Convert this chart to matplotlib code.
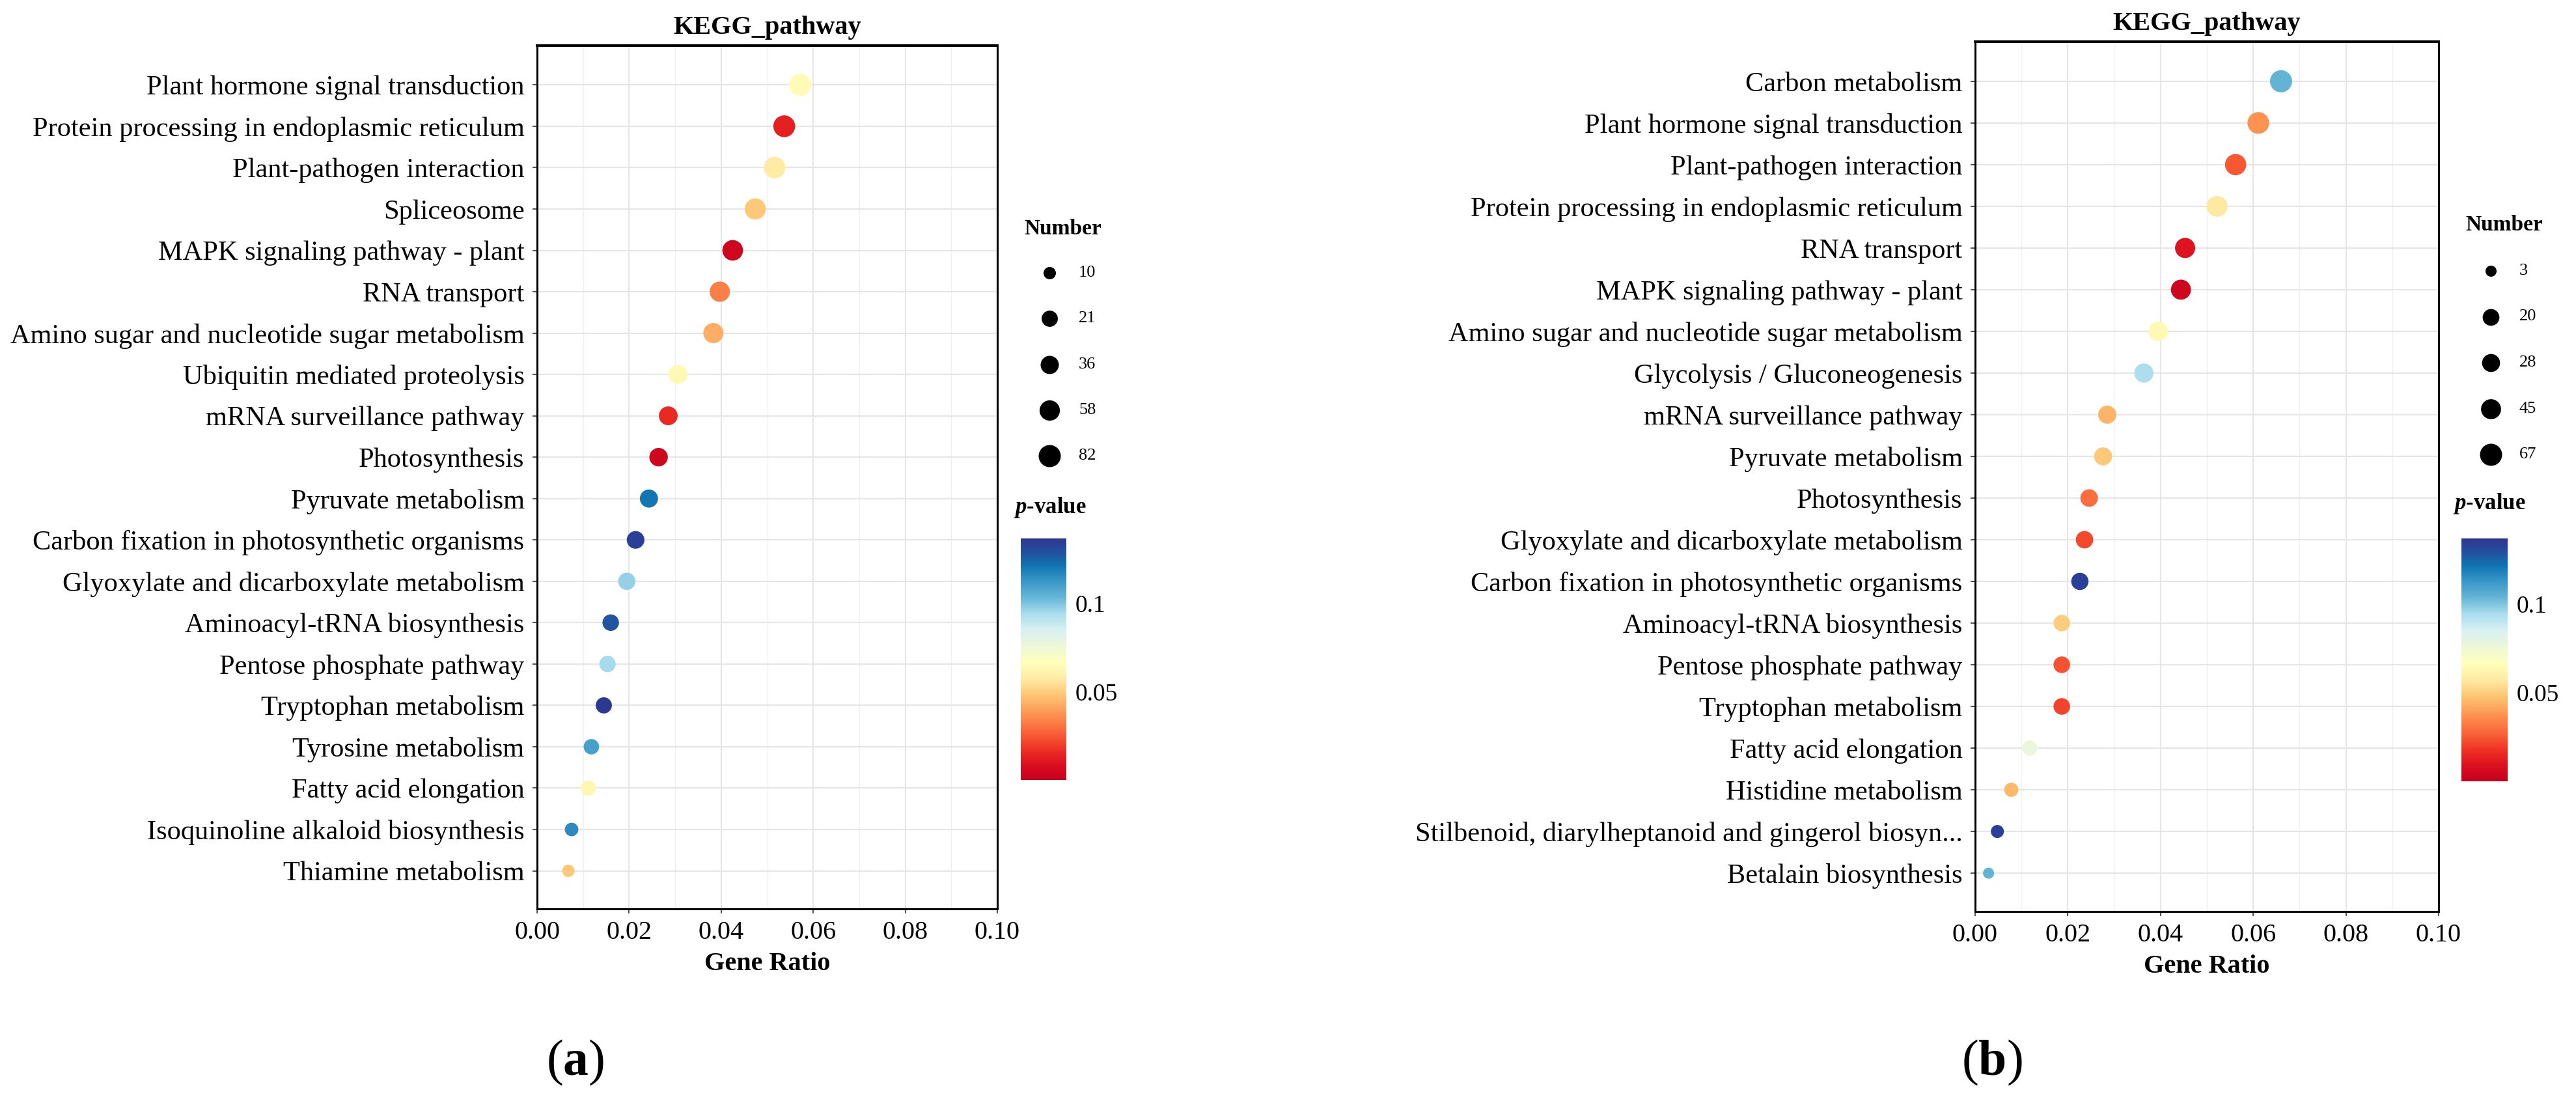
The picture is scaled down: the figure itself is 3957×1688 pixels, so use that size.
import numpy as np
import matplotlib
matplotlib.use("Agg")
import matplotlib.pyplot as plt
from matplotlib.colors import LinearSegmentedColormap
from matplotlib.ticker import MultipleLocator

plt.rcParams['font.family'] = ['Liberation Serif', 'DejaVu Serif']
plt.rcParams['mathtext.fontset'] = 'custom'
plt.rcParams['mathtext.rm'] = 'Liberation Serif'
plt.rcParams['mathtext.it'] = 'Liberation Serif:italic:bold'
plt.rcParams['mathtext.bf'] = 'Liberation Serif:bold'

W, H, DPI = 3957, 1688, 100

# ---- panel (a) ----
pathways_a = [
    "Plant hormone signal transduction",
    "Protein processing in endoplasmic reticulum",
    "Plant-pathogen interaction",
    "Spliceosome",
    "MAPK signaling pathway - plant",
    "RNA transport",
    "Amino sugar and nucleotide sugar metabolism",
    "Ubiquitin mediated proteolysis",
    "mRNA surveillance pathway",
    "Photosynthesis",
    "Pyruvate metabolism",
    "Carbon fixation in photosynthetic organisms",
    "Glyoxylate and dicarboxylate metabolism",
    "Aminoacyl-tRNA biosynthesis",
    "Pentose phosphate pathway",
    "Tryptophan metabolism",
    "Tyrosine metabolism",
    "Fatty acid elongation",
    "Isoquinoline alkaloid biosynthesis",
    "Thiamine metabolism",
]
ratio_a = [0.0572, 0.0537, 0.0516, 0.0474, 0.0425, 0.0397, 0.0383, 0.0306, 0.0285, 0.0264,
           0.0243, 0.0214, 0.0195, 0.0160, 0.0153, 0.0145, 0.0118, 0.0111, 0.0075, 0.0068]
count_a = [82, 77, 74, 68, 61, 57, 55, 44, 41, 38, 35, 31, 28, 23, 22, 21, 17, 16, 11, 10]
pvalue_a = [0.065, 0.013, 0.058, 0.049, 0.004, 0.033, 0.043, 0.064, 0.016, 0.004,
            0.121, 0.134, 0.097, 0.128, 0.095, 0.136, 0.110, 0.063, 0.116, 0.049]
size_breaks_a = [10, 21, 36, 58, 82]

# ---- panel (b) ----
pathways_b = [
    "Carbon metabolism",
    "Plant hormone signal transduction",
    "Plant-pathogen interaction",
    "Protein processing in endoplasmic reticulum",
    "RNA transport",
    "MAPK signaling pathway - plant",
    "Amino sugar and nucleotide sugar metabolism",
    "Glycolysis / Gluconeogenesis",
    "mRNA surveillance pathway",
    "Pyruvate metabolism",
    "Photosynthesis",
    "Glyoxylate and dicarboxylate metabolism",
    "Carbon fixation in photosynthetic organisms",
    "Aminoacyl-tRNA biosynthesis",
    "Pentose phosphate pathway",
    "Tryptophan metabolism",
    "Fatty acid elongation",
    "Histidine metabolism",
    "Stilbenoid, diarylheptanoid and gingerol biosyn...",
    "Betalain biosynthesis",
]
ratio_b = [0.0660, 0.0611, 0.0562, 0.0522, 0.0453, 0.0444, 0.0395, 0.0364, 0.0285, 0.0276,
           0.0246, 0.0236, 0.0226, 0.0187, 0.0187, 0.0187, 0.0118, 0.0078, 0.0048, 0.0029]
count_b = [67, 62, 57, 53, 46, 45, 40, 37, 29, 28, 25, 24, 23, 19, 19, 19, 12, 8, 5, 3]
pvalue_b = [0.104, 0.037, 0.025, 0.057, 0.010, 0.004, 0.064, 0.094, 0.044, 0.049,
            0.029, 0.022, 0.134, 0.050, 0.024, 0.021, 0.077, 0.045, 0.134, 0.104]
size_breaks_b = [3, 20, 28, 45, 67]

pval_ticks = [0.05, 0.1]
pval_ticklabels = ["0.05", "0.1"]
P_MIN, P_MAX = 0.0, 0.137

# gradient sampled from the reference colour bar (low p -> high p)
cmap = LinearSegmentedColormap.from_list("pval", [
    (0.000, "#c5001e"), (0.055, "#d80c1e"), (0.119, "#ec2c22"), (0.193, "#f86138"),
    (0.266, "#fc9050"), (0.350, "#fdc574"), (0.413, "#fee8a0"), (0.486, "#ffffbb"),
    (0.560, "#ecf6da"), (0.624, "#d6f0f2"), (0.690, "#a9dded"), (0.760, "#63b4d5"),
    (0.835, "#3392c5"), (0.890, "#0e74b0"), (0.945, "#24509f"), (1.000, "#2e3692"),
])


def box(x0, y0, x1, y1):
    # pixel box (top-left origin) -> figure fraction rect
    return [x0 / W, 1 - y1 / H, (x1 - x0) / W, (y1 - y0) / H]


def marker_area(n, breaks, dmin, dmax):
    n = np.asarray(n, dtype=float)
    lo, hi = min(breaks), max(breaks)
    d = dmin + (dmax - dmin) * np.sqrt((n - lo) / (hi - lo))
    return (d * 72.0 / DPI) ** 2


def draw_panel(fig, overlay, names, ratio, count, pvals, breaks, dsize, L):
    ax = fig.add_axes(box(*L["axes"]))
    ypos = np.arange(len(names))[::-1]
    ax.set_axisbelow(True)
    sc = ax.scatter(ratio, ypos, s=marker_area(count, breaks, *dsize), c=pvals,
                    cmap=cmap, vmin=P_MIN, vmax=P_MAX, linewidths=0, zorder=3)
    ax.set_xlim(0, 0.1)
    ax.set_ylim(-0.92, len(names) - 0.05)
    ax.xaxis.set_minor_locator(MultipleLocator(0.01))
    ax.set_yticks(ypos)
    ax.set_yticklabels(names)
    xt = np.arange(0, 0.101, 0.02)
    ax.set_xticks(xt)
    ax.set_xticklabels(["%.2f" % v for v in xt])
    ax.grid(which="major", color="#e6e6e6", linewidth=1.6)
    ax.grid(which="minor", axis="x", color="#efefef", linewidth=0.9)
    ax.tick_params(axis="y", labelsize=30.5, length=5, width=1.2, pad=9, color="#333333")
    ax.tick_params(axis="x", which="major", labelsize=29, length=5, width=1.2, pad=8,
                   color="#333333")
    ax.tick_params(axis="x", which="minor", length=0)
    for sp in ax.spines.values():
        sp.set_linewidth(2.2)
        sp.set_color("black")
    ax.spines["top"].set_linewidth(2.8)
    ax.set_title("KEGG_pathway", fontsize=29, fontweight="bold", pad=13)
    ax.set_xlabel("Gene Ratio", fontsize=29, fontweight="bold", labelpad=8)

    # size legend
    lx, ly = L["number"]
    overlay.text(lx, ly, "Number", fontsize=24, fontweight="bold", ha="left", va="center")
    dx, lab_x, y0, dy = L["dots"]
    for k, b in enumerate(breaks):
        yy = y0 + k * dy
        overlay.scatter([dx], [yy], s=marker_area([b], breaks, *dsize), color="black",
                        linewidths=0)
        overlay.text(lab_x, yy, str(b), fontsize=19, ha="left", va="center")

    # colour legend
    px, py = L["ptitle"]
    overlay.text(px, py, r"$\mathit{p}$-value", fontsize=25, fontweight="bold",
                 ha="left", va="center")
    cax = fig.add_axes(box(*L["cbar"]))
    cb = fig.colorbar(sc, cax=cax, ticks=pval_ticks)
    cb.set_ticklabels(pval_ticklabels)
    cb.outline.set_visible(False)
    cax.tick_params(length=0, labelsize=27, pad=10)

    tx, ty = L["tag"]
    fig.text(tx / W, 1 - ty / H, "(" + r"$\mathbf{" + L["tagtxt"] + "}$" + ")",
             fontsize=56, ha="center", va="center")
    return ax


fig = plt.figure(figsize=(W / DPI, H / DPI), dpi=DPI)
fig.patch.set_facecolor("white")

overlay = fig.add_axes([0, 0, 1, 1])
overlay.set_xlim(0, W)
overlay.set_ylim(H, 0)
overlay.axis("off")
overlay.patch.set_alpha(0)

layout_a = {
    "axes": (825, 70, 1532, 1396),
    "number": (1573, 352),
    "dots": (1612, 1657, 419, 70.3),
    "ptitle": (1557, 779),
    "cbar": (1568, 827, 1638, 1198),
    "tag": (884, 1632),
    "tagtxt": "a",
}
layout_b = {
    "axes": (3034, 64, 3746, 1400),
    "number": (3787, 346),
    "dots": (3826, 3870, 416, 70.5),
    "ptitle": (3768, 774),
    "cbar": (3781, 827, 3852, 1200),
    "tag": (3060, 1632),
    "tagtxt": "b",
}

draw_panel(fig, overlay, pathways_a, ratio_a, count_a, pvalue_a, size_breaks_a, (19, 34), layout_a)
draw_panel(fig, overlay, pathways_b, ratio_b, count_b, pvalue_b, size_breaks_b, (17, 34), layout_b)

fig.savefig("out.png", dpi=DPI, facecolor="white")
